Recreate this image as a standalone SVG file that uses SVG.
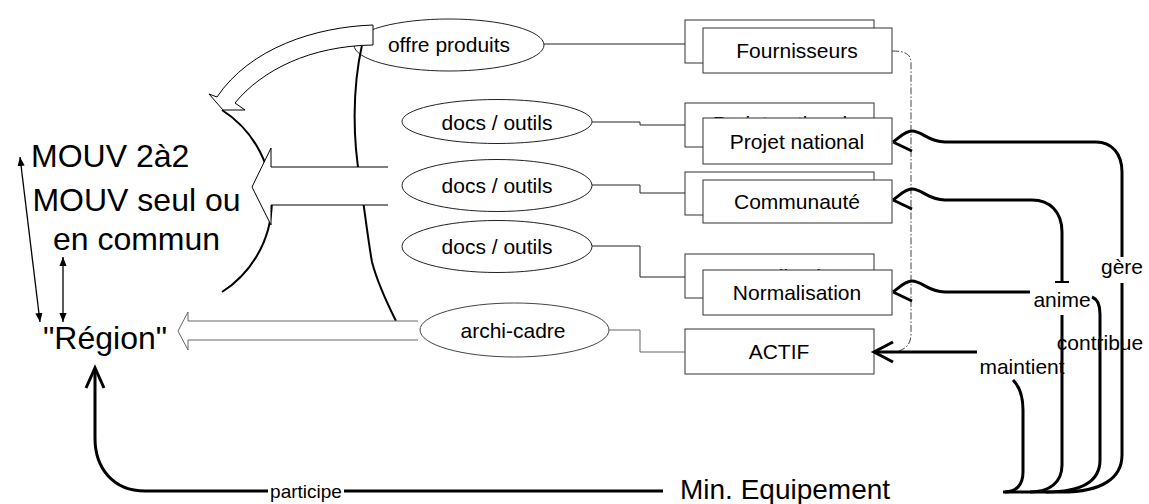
<svg xmlns="http://www.w3.org/2000/svg" width="1149" height="504" viewBox="0 0 1149 504">
<defs>
<marker id="dh" viewBox="0 0 10 10" refX="10" refY="5" markerWidth="9" markerHeight="9" markerUnits="userSpaceOnUse" orient="auto-start-reverse"><path d="M0,1 L10,5 L0,9 Z" fill="#000"/></marker>
</defs>
<style>
text{font-family:"Liberation Sans",Arial,sans-serif;fill:#000}
.big{font-size:32px}
.t{font-size:21px;text-anchor:middle}
.box{fill:#fff;stroke:#333;stroke-width:1}
.ell{fill:#fff;stroke:#222;stroke-width:1}
.thin{fill:none;stroke:#222;stroke-width:1}
.gray{fill:none;stroke:#666;stroke-width:1}
.thick{fill:none;stroke:#000;stroke-width:3}
.med{fill:none;stroke:#000;stroke-width:2}
.blk{fill:#fff;stroke:#000;stroke-width:1}
</style>
<rect width="1149" height="504" fill="#fff"/>

<g id="mouv2a2"><text class="big" x="31" y="167">MOUV 2à2</text></g>
<g id="mouvseul"><text class="big" x="136.5" y="211" text-anchor="middle">MOUV seul ou</text><text class="big" x="136.5" y="250" text-anchor="middle">en commun</text></g>
<g id="region"><text class="big" x="43" y="349">"Région"</text></g>
<g id="minequip"><text x="680" y="499" style="font-size:28px">Min. Equipement</text></g>

<g id="offre"><ellipse class="ell" cx="449" cy="45" rx="95" ry="26"/><text class="t" x="449" y="51.5">offre produits</text></g>
<g id="docs1"><ellipse class="ell" cx="497" cy="121.5" rx="95" ry="22"/><text class="t" x="497" y="129.5">docs / outils</text></g>
<g id="docs2"><ellipse class="ell" cx="497" cy="185.5" rx="95" ry="26"/><text class="t" x="497" y="192.5">docs / outils</text></g>
<g id="docs3"><ellipse class="ell" cx="497" cy="246.5" rx="95" ry="26"/><text class="t" x="497" y="253.5">docs / outils</text></g>
<g id="archicadre"><ellipse class="ell" cx="514.5" cy="330" rx="94.5" ry="27" style="stroke:#444"/><text class="t" x="513" y="337.5">archi-cadre</text></g>

<g id="fournisseurs"><rect class="box" x="685" y="20" width="189" height="43"/><rect class="box" x="703" y="28" width="189" height="45"/><text class="t" x="797" y="58">Fournisseurs</text></g>
<g id="projet"><rect class="box" x="685" y="103" width="189" height="44"/><text class="t" x="780" y="131">Projet national</text><rect class="box" x="703" y="118" width="189" height="46"/><text class="t" x="797" y="148.5">Projet national</text></g>
<g id="communaute"><rect class="box" x="685" y="172" width="189" height="43"/><rect class="box" x="703" y="180" width="189" height="43"/><text class="t" x="797" y="209">Communauté</text></g>
<g id="normalisation"><rect class="box" x="685" y="254" width="189" height="44"/><text class="t" x="780" y="284">Normalisation</text><rect class="box" x="703" y="270" width="189" height="45"/><text class="t" x="797" y="300">Normalisation</text></g>
<g id="actif"><rect class="box" x="685" y="329" width="189" height="45"/><text class="t" x="779" y="359">ACTIF</text></g>

<g id="connectors">
<path class="med" d="M222,110 A108,108 0 0 1 222,292"/>
<path class="med" d="M362,45 C352,90 353,140 360,180 C364,205 368,240 372,262 C378,285 388,305 396,321"/>
<path class="blk" d="M373,25 C315,27 250,48 217,97 L209,94 L223,110 L245,110 L235,103 C262,70 310,46 373,45 Z"/>
<path class="blk" d="M388,167 L271,167 L271,148 L252,187 L271,225 L271,205 L388,205"/>
<path d="M418,321 L188,321 L188,312 L178,331 L188,350 L188,340 L418,340" fill="#fff" stroke="#666" stroke-width="1"/>

<line x1="20" y1="157" x2="40" y2="322" stroke="#000" stroke-width="1.3" marker-start="url(#dh)" marker-end="url(#dh)"/>
<line x1="63" y1="257" x2="63" y2="322" stroke="#000" stroke-width="1.3" marker-start="url(#dh)" marker-end="url(#dh)"/>

<path class="thin" d="M544,44 L685,44"/>
<path class="thin" d="M592,122 L640,122 L640,125 L685,125"/>
<path class="thin" d="M592,185 L640,185 L640,193 L685,193"/>
<path class="thin" d="M592,246 L640,246 L640,277 L685,277"/>
<path class="gray" d="M609,330 L640,330 L640,352 L685,352"/>

<path d="M892,51 C905,51 911,54 911,63 L911,334 C911,343 907,348 899,351" fill="none" stroke="#444" stroke-width="1" stroke-dasharray="7,2,1.5,2"/>

<path class="thick" d="M893,142 C900,137 905,131 912,131 C922,131 928,142 945,142 L1096,142 C1112,142 1122,154 1122,172 L1122,257"/>
<path class="thick" d="M1122,283 L1122,455 C1122,478 1102,492 1062,492"/>
<path class="thick" d="M893,142 L912,151"/>

<path class="thick" d="M893,200 C900,195 905,189 912,189 C922,189 928,200 945,200 L1032,200 C1050,200 1062,212 1062,232 L1062,282"/>
<path class="med" d="M1055,282 L1069,282"/>
<path class="thick" d="M1062,315 L1062,465 C1062,482 1050,492 1030,492"/>
<path class="thick" d="M893,200 L912,209"/>

<path class="thick" d="M893,292 C900,287 905,281 912,281 C922,281 928,292 945,292 L1030,292"/>
<path class="thick" d="M1092,297 C1097,299 1100,304 1100,314 L1100,460 C1100,480 1085,492 1046,492"/>
<path class="thick" d="M893,292 L912,301"/>

<path class="thick" d="M875,352 L977,352"/>
<path class="thick" d="M893,342 L874,352 L893,362"/>
<path class="thick" d="M1013,380 C1019,386 1023,395 1023,410 L1023,472 C1023,485 1016,492 1005,492"/>

<path class="thick" d="M1003,492 L1062,492"/>

<path class="thick" d="M268,491 L145,491 C113,491 95,468 95,438 L95,369"/>
<path class="thick" d="M663,491 L344,491"/>
<path class="thick" d="M86,388 L95,368 L104,388"/>

<text class="t" x="1122" y="274">gère</text>
<text class="t" x="1062" y="307">anime</text>
<text class="t" x="1100" y="350">contribue</text>
<text class="t" x="1022" y="374">maintient</text>
<text class="t" x="306" y="498" style="font-size:19px">participe</text>
</g>
</svg>
